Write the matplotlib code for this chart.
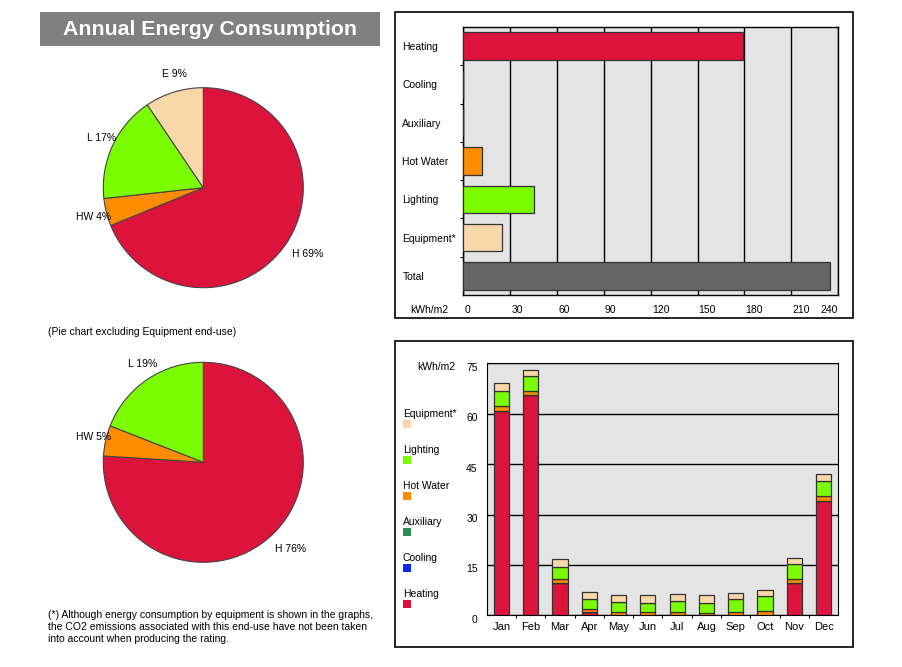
import numpy as np
import matplotlib
matplotlib.use("Agg")
import matplotlib.pyplot as plt
from matplotlib.patches import Rectangle
import matplotlib.transforms as mtransforms

plt.rcParams['font.family'] = ['Liberation Sans', 'DejaVu Sans']

# annual totals (kWh/m2)
end_uses = ['Heating', 'Cooling', 'Auxiliary', 'Hot Water', 'Lighting', 'Equipment*', 'Total']
annual = [179.0, 0.0, 0.0, 11.6, 44.9, 24.6, 235.0]

# pie charts
pie_all_labels = ['H', 'HW', 'L', 'E']
pie_all_values = [179.0, 11.6, 44.9, 24.6]
pie_noeq_labels = ['H', 'HW', 'L']
pie_noeq_values = [179.0, 11.6, 44.9]

# monthly (kWh/m2), stacked bottom to top
months = ['Jan', 'Feb', 'Mar', 'Apr', 'May', 'Jun', 'Jul', 'Aug', 'Sep', 'Oct', 'Nov', 'Dec']
heating = [60.8, 65.5, 9.6, 0.9, 0.0, 0.0, 0.0, 0.0, 0.0, 0.0, 9.6, 33.9]
cooling = [0.0] * 12
auxiliary = [0.0] * 12
hot_water = [1.4, 1.2, 1.2, 0.9, 1.1, 1.1, 1.1, 0.8, 1.1, 1.2, 1.1, 1.5]
lighting = [4.6, 4.5, 3.7, 3.1, 2.9, 2.7, 3.2, 3.0, 3.7, 4.5, 4.5, 4.5]
equipment = [2.2, 1.7, 2.2, 1.9, 2.0, 2.2, 2.0, 2.2, 1.7, 1.8, 1.8, 2.2]

C_HEAT = '#dc143c'
C_COOL = '#0a2be6'
C_AUX = '#2e8b57'
C_HW = '#ff8c00'
C_LIGHT = '#7cfc00'
C_EQ = '#f8d8a8'
C_TOT = '#666666'
EDGE = '#333333'
BG = '#e4e4e4'
FS = 7.5

W, H = 903, 667
fig = plt.figure(figsize=(W / 100, H / 100), dpi=100)


def fx(px):
    return px / W


def fy(py):
    return 1 - py / H


# title box
fig.patches.append(Rectangle((fx(40), fy(46)), fx(340), 34 / H, transform=fig.transFigure,
                             facecolor='#808080', edgecolor='none'))
fig.text(fx(210), fy(29.5), 'Annual Energy Consumption', color='white', fontsize=15.3,
         fontweight='bold', ha='center', va='center')

# panel borders
for top in (12, 341):
    fig.patches.append(Rectangle((fx(395), fy(top + 306)), fx(458), 306 / H, transform=fig.transFigure,
                                 facecolor='none', edgecolor='black', lw=1.2))


# pies
def draw_pie(cx, cy, labels, values, colors):
    ax = fig.add_axes([fx(cx - 120), fy(cy + 120), 240 / W, 240 / H])
    total = sum(values)
    lab = [f'{l} {v / total * 100:.0f}%' for l, v in zip(labels, values)]
    wedges, texts = ax.pie(values, labels=lab, colors=colors, startangle=90, counterclock=False,
                           labeldistance=1.19, radius=1.0,
                           wedgeprops=dict(edgecolor='#444444', linewidth=0.8),
                           textprops=dict(fontsize=FS))
    for t in texts:
        t.set_horizontalalignment('center')
        px, py = t.get_position()
        t.set_position((px + 0.06, py))
    ax.set_xlim(-1.2, 1.2)
    ax.set_ylim(-1.2, 1.2)
    ax.set_aspect('equal')
    ax.axis('off')


draw_pie(203.3, 187.7, pie_all_labels, pie_all_values, [C_HEAT, C_HW, C_LIGHT, C_EQ])
draw_pie(203.3, 462.3, pie_noeq_labels, pie_noeq_values, [C_HEAT, C_HW, C_LIGHT])

fig.text(fx(48), fy(332), '(Pie chart excluding Equipment end-use)', fontsize=FS, va='center')
notes = ['(*) Although energy consumption by equipment is shown in the graphs,',
         'the CO2 emissions associated with this end-use have not been taken',
         'into account when producing the rating.']
for i, line in enumerate(notes):
    fig.text(fx(48), fy(615 + 12 * i), line, fontsize=FS, va='center')

# annual bar chart
ax1 = fig.add_axes([fx(463.5), fy(295), 374.5 / W, 268 / H])
ax1.set_facecolor(BG)
ypos = np.arange(len(end_uses))
ax1.barh(ypos, annual, height=0.72, color=[C_HEAT, C_COOL, C_AUX, C_HW, C_LIGHT, C_EQ, C_TOT],
         edgecolor=EDGE, linewidth=0.9, zorder=3)
ax1.set_xlim(0, 240)
ax1.set_ylim(len(end_uses) - 0.5, -0.5)
ax1.set_xticks(np.arange(0, 241, 30))
ax1.grid(axis='x', color='black', lw=1, zorder=1)
ax1.set_axisbelow(True)
ax1.set_yticks(ypos)
ax1.set_yticklabels(end_uses, fontsize=FS, ha='left')
ax1.set_yticks(ypos[:-1] + 0.5, minor=True)
ax1.tick_params(axis='y', which='major', length=0, pad=44)
ax1.tick_params(axis='y', which='minor', length=2.5, width=0.8, direction='out')
ax1.tick_params(axis='x', length=0, pad=7.5, labelsize=FS)
xl = ax1.get_xticklabels()
for t in xl[:-1]:
    t.set_horizontalalignment('left')
    t.set_transform(t.get_transform() + mtransforms.ScaledTranslation(1 / 100, 0, fig.dpi_scale_trans))
xl[-1].set_horizontalalignment('right')
for s in ax1.spines.values():
    s.set_linewidth(1)
fig.text(fx(410), fy(310), 'kWh/m2', fontsize=FS, va='center')

# monthly stacked bar chart
ax2 = fig.add_axes([fx(486.7), fy(615.3), 351.6 / W, 252 / H])
ax2.set_facecolor(BG)
x = np.arange(len(months))
series = [('Heating', heating, C_HEAT), ('Cooling', cooling, C_COOL), ('Auxiliary', auxiliary, C_AUX),
          ('Hot Water', hot_water, C_HW), ('Lighting', lighting, C_LIGHT), ('Equipment*', equipment, C_EQ)]
bottom = np.zeros(len(months))
for name, vals, col in series:
    vals = np.array(vals)
    ax2.bar(x, vals, bottom=bottom, width=0.52, color=col, edgecolor=EDGE, linewidth=0.9, zorder=3)
    bottom += vals
ax2.set_xlim(-0.5, len(months) - 0.5)
ax2.set_ylim(0, 75)
ax2.set_yticks(np.arange(0, 76, 15))
ax2.grid(axis='y', color='black', lw=1, zorder=1)
ax2.set_axisbelow(True)
ax2.set_xticks(x)
ax2.set_xticklabels(months, fontsize=8)
ax2.set_xticks(x[:-1] + 0.5, minor=True)
ax2.tick_params(axis='x', which='major', length=0, pad=5)
ax2.tick_params(axis='x', which='minor', length=2.5, width=0.8, direction='out')
ax2.tick_params(axis='y', length=0, pad=6.5, labelsize=FS)
for t in ax2.get_yticklabels():
    t.set_transform(t.get_transform() + mtransforms.ScaledTranslation(0, -3.5 / 100, fig.dpi_scale_trans))
fig.text(fx(455), fy(367), 'kWh/m2', fontsize=FS, va='center', ha='right')

# legend (top to bottom)
for i, (name, vals, col) in enumerate(series[::-1]):
    ly = 414 + 36 * i
    fig.text(fx(403), fy(ly), name, fontsize=FS, va='center')
    fig.patches.append(Rectangle((fx(403), fy(ly + 14)), 8 / W, 8 / H, transform=fig.transFigure,
                                 facecolor=col, edgecolor='none'))

fig.savefig('out.png', dpi=100)
